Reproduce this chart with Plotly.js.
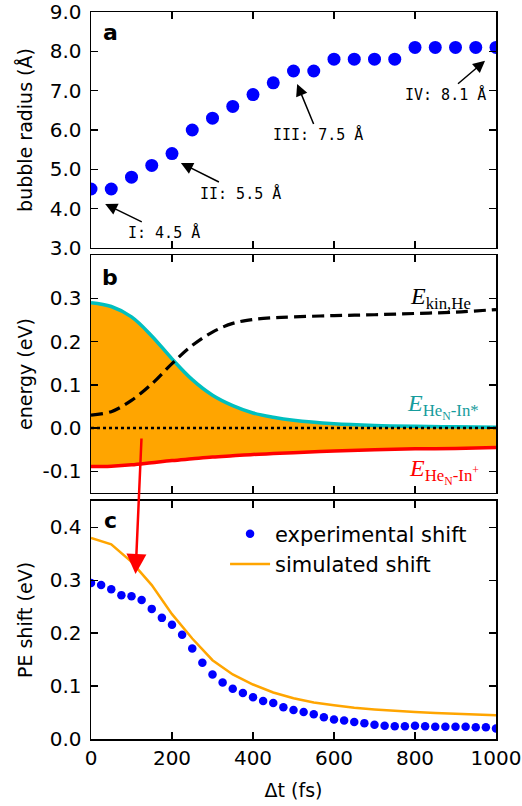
<!DOCTYPE html>
<html>
<head>
<meta charset="utf-8">
<script src="https://cdn.plot.ly/plotly-3.0.1.min.js"></script>
<style>html,body{margin:0;padding:0;background:#fff;}#chart{width:522px;height:806px;}</style>
</head>
<body>
<div id="chart"></div>
<script>
// Panel a: bubble radius
const tA = [0,50,100,150,200,250,300,350,400,450,500,550,600,650,700,750,800,850,900,950,1000];
const radius = [4.5,4.5,4.8,5.1,5.4,6.0,6.3,6.6,6.9,7.2,7.5,7.5,7.8,7.8,7.8,7.8,8.1,8.1,8.1,8.1,8.1];

// Panel b: energies
const tB = [0,50,100,150,200,250,300,350,400,450,500,600,700,800,900,1000];
const eStar = [0.290,0.281,0.257,0.213,0.160,0.112,0.076,0.052,0.035,0.025,0.018,0.010,0.006,0.004,0.003,0.002];
const eKin = [0.030,0.038,0.064,0.102,0.149,0.191,0.222,0.242,0.251,0.255,0.257,0.260,0.262,0.265,0.268,0.274];
const eIon = [-0.089,-0.088,-0.085,-0.080,-0.075,-0.071,-0.067,-0.064,-0.061,-0.059,-0.057,-0.053,-0.050,-0.048,-0.047,-0.045];

// Panel c: PE shift
const tExp = [0,25,50,75,100,125,150,175,200,225,250,275,300,325,350,375,400,425,450,475,500,525,550,575,600,625,650,675,700,725,750,775,800,825,850,875,900,925,950,975,1000];
const expShift = [0.295,0.291,0.283,0.272,0.270,0.263,0.246,0.229,0.216,0.197,0.171,0.144,0.122,0.107,0.095,0.087,0.079,0.072,0.068,0.060,0.055,0.051,0.047,0.041,0.037,0.035,0.032,0.030,0.027,0.025,0.024,0.024,0.025,0.024,0.023,0.023,0.023,0.023,0.022,0.022,0.020];
const tSim = [0,50,100,150,200,250,300,350,400,450,500,550,600,650,700,750,800,850,900,950,1000];
const simShift = [0.380,0.368,0.335,0.291,0.236,0.190,0.149,0.122,0.103,0.088,0.077,0.069,0.064,0.059,0.056,0.053,0.051,0.049,0.048,0.046,0.045];

const xTicks = [0,200,400,600,800,1000];

const TEAL = '#00bfbf', TEAL_TXT = '#169c9c', ORANGE = '#ffa500', RED = '#ff0000', BLUE = '#0000ff';
const tickFont = {family:'DejaVu Sans', size:20, color:'black'};
const titleFont = {family:'DejaVu Sans', size:19, color:'black'};

function axis(extra){
  return Object.assign({
    showline:true, linecolor:'black', linewidth:1.5, mirror:'ticks',
    ticks:'inside', ticklen:7, tickwidth:1.5, tickcolor:'black',
    showgrid:false, zeroline:false, tickfont:tickFont
  }, extra);
}

const traces = [
  {x:tA, y:radius, xaxis:'x', yaxis:'y', mode:'markers', type:'scatter',
   marker:{color:BLUE, size:13}, showlegend:false, cliponaxis:true},
  // fill between ion and star
  {x:tB, y:eIon, xaxis:'x2', yaxis:'y2', mode:'lines', line:{width:0, shape:'spline'}, showlegend:false, hoverinfo:'skip'},
  {x:tB, y:eStar, xaxis:'x2', yaxis:'y2', mode:'lines', line:{width:0, shape:'spline'}, fill:'tonexty', fillcolor:ORANGE, showlegend:false, hoverinfo:'skip'},
  {x:tB, y:eIon, xaxis:'x2', yaxis:'y2', mode:'lines', line:{color:RED, width:3.5, shape:'spline'}, showlegend:false},
  {x:tB, y:eStar, xaxis:'x2', yaxis:'y2', mode:'lines', line:{color:TEAL, width:3.5, shape:'spline'}, showlegend:false},
  {x:tB, y:eKin, xaxis:'x2', yaxis:'y2', mode:'lines', line:{color:'black', width:3.2, dash:'12px,6px', shape:'spline'}, showlegend:false},
  // panel c
  {x:tExp, y:expShift, xaxis:'x3', yaxis:'y3', mode:'markers', name:'experimental shift',
   marker:{color:BLUE, size:8.5}},
  {x:tSim, y:simShift, xaxis:'x3', yaxis:'y3', mode:'lines', name:'simulated shift',
   line:{color:ORANGE, width:2.5}}
];

const annFont = {family:'DejaVu Sans Mono', size:15, color:'black'};
const arrowCommon = {showarrow:true, arrowhead:2, arrowsize:1.6, arrowwidth:1.5, arrowcolor:'black', standoff:0, font:annFont};

const layout = {
  width:522, height:806,
  margin:{l:91, r:26, t:12, b:67},
  paper_bgcolor:'white', plot_bgcolor:'white',
  font:{family:'DejaVu Sans', color:'black'},
  xaxis: axis({domain:[0,1], range:[0,1000], tickvals:xTicks, showticklabels:false, anchor:'y'}),
  yaxis: axis({domain:[0.6754,1], range:[3,9], tickvals:[3,4,5,6,7,8,9], ticktext:['3.0','4.0','5.0','6.0','7.0','8.0','9.0'], anchor:'x',
    ticklabelstandoff:4, title:{text:'bubble radius (Å)', font:titleFont, standoff:12}}),
  xaxis2: axis({domain:[0,1], range:[0,1000], tickvals:xTicks, showticklabels:false, anchor:'y2'}),
  yaxis2: axis({domain:[0.3384,0.6657], range:[-0.15,0.4], tickvals:[-0.1,0,0.1,0.2,0.3], ticktext:['-0.1','0.0','0.1','0.2','0.3'], anchor:'x2',
    ticklabelstandoff:4, title:{text:'energy (eV)', font:titleFont, standoff:5}}),
  xaxis3: axis({domain:[0,1], range:[0,1000], tickvals:xTicks, anchor:'y3',
    title:{text:'Δt (fs)', font:titleFont, standoff:15}}),
  yaxis3: axis({domain:[0,0.3274], range:[0,0.45], tickvals:[0,0.1,0.2,0.3,0.4], ticktext:['0.0','0.1','0.2','0.3','0.4'], anchor:'x3',
    ticklabelstandoff:4, title:{text:'PE shift (eV)', font:titleFont, standoff:12}}),
  legend:{x:0.331, y:0.31, xref:'paper', yref:'paper', xanchor:'left', yanchor:'top', traceorder:'normal',
    font:{family:'DejaVu Sans', size:21, color:'black'}, bgcolor:'rgba(0,0,0,0)', itemwidth:40},
  shapes:[
    {type:'line', xref:'x2', yref:'y2', x0:0, x1:1000, y0:0, y1:0, line:{color:'black', width:2.5, dash:'dot'}}
  ],
  annotations:[
    {xref:'x', yref:'y', x:47, y:8.49, text:'<b>a</b>', showarrow:false, font:{family:'DejaVu Sans', size:22, color:'black'}},
    {xref:'x2', yref:'y2', x:47, y:0.347, text:'<b>b</b>', showarrow:false, font:{family:'DejaVu Sans', size:22, color:'black'}},
    {xref:'x3', yref:'y3', x:47, y:0.413, text:'<b>c</b>', showarrow:false, font:{family:'DejaVu Sans', size:22, color:'black'}},
    Object.assign({xref:'x', yref:'y', x:35, y:4.12, ax:59, ay:29, text:'I: 4.5 Å'}, arrowCommon),
    Object.assign({xref:'x', yref:'y', x:222, y:5.16, ax:60, ay:30, text:'II: 5.5 Å'}, arrowCommon),
    Object.assign({xref:'x', yref:'y', x:509, y:7.17, ax:21, ay:51, text:'III: 7.5 Å'}, arrowCommon),
    Object.assign({xref:'x', yref:'y', x:973, y:7.76, ax:-40, ay:34, text:'IV: 8.1 Å'}, arrowCommon),
    {xref:'x2', yref:'y2', x:862, y:0.3, text:'<i>E</i><sub>kin,He</sub>', showarrow:false, font:{family:'Liberation Serif', size:24, color:'black'}},
    {xref:'x2', yref:'y2', x:869, y:0.049, text:'<i>E</i><sub>He<sub>N</sub>-In*</sub>', showarrow:false, font:{family:'Liberation Serif', size:24, color:TEAL_TXT}},
    {xref:'x2', yref:'y2', x:872, y:-0.1, text:'<i>E</i><sub>He<sub>N</sub>-In<sup>+</sup></sub>', showarrow:false, font:{family:'Liberation Serif', size:24, color:RED}},
    {xref:'x3', yref:'y3', x:110, y:0.312, ax:6, ay:-137, text:'', showarrow:true, arrowhead:2, arrowsize:1.6, arrowwidth:2.5, arrowcolor:RED, standoff:0}
  ]
};

Plotly.newPlot('chart', traces, layout, {displayModeBar:false, staticPlot:true});
</script>
</body>
</html>
